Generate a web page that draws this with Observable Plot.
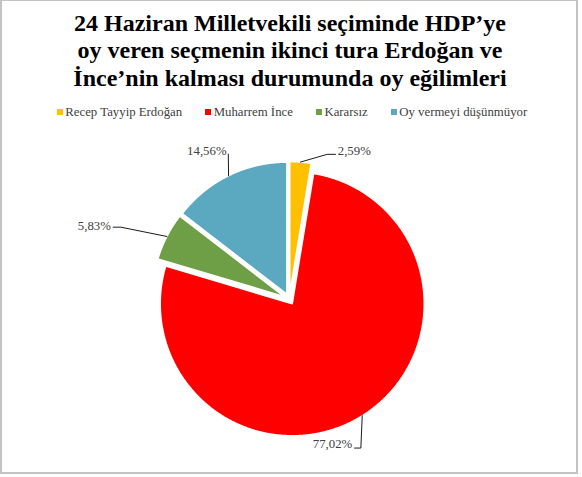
<!DOCTYPE html>
<html>
<head>
<meta charset="utf-8">
<script src="https://cdn.jsdelivr.net/npm/d3@7"></script>
<script src="https://cdn.jsdelivr.net/npm/@observablehq/plot@0.6"></script>
<style>
  html, body { margin: 0; padding: 0; background: #fff; }
  #frame { position: absolute; left: 0; top: 0; width: 578px; height: 474px; box-sizing: border-box; border: 2px solid #c3c3c3; border-top-width: 1px; }
  #title { position: absolute; left: 0; top: 9.9px; width: 580px; text-align: center;
           font-family: "Liberation Serif", "DejaVu Serif", serif; font-weight: bold; font-size: 24px;
           line-height: 27.5px; color: #000; white-space: nowrap; }
  #legend { position: absolute; left: 0; top: 104px; width: 584px; height: 16px; display: flex; justify-content: center; align-items: center;
            font-family: "Liberation Serif", serif; font-size: 12.8px; color: #404040; white-space: nowrap; }
  .item { display: flex; align-items: center; margin: 0 11.5px; }
  .sw { width: 6px; height: 6px; margin-right: 2.5px; }
  #chart { position: absolute; left: 0; top: 130px; }
</style>
</head>
<body>
<div id="frame"></div>
<div id="title">24 Haziran Milletvekili seçiminde HDP’ye<br>oy veren seçmenin ikinci tura Erdoğan ve<br>İnce’nin kalması durumunda oy eğilimleri</div>
<div id="legend"></div>
<div id="chart"></div>
<script>
// ---- data ----
const categories = ["Recep Tayyip Erdoğan", "Muharrem İnce", "Kararsız", "Oy vermeyi düşünmüyor"];
const values = [2.59, 77.02, 5.83, 14.56];
const colors = ["#FFC000", "#FF0000", "#6E9E45", "#5AA9C1"];
const labels = values.map(v => v.toFixed(2).replace(".", ",") + "%");

// ---- layout (pixels) ----
const W = 578, H = 340, CX = 288.8, CY = 168.6, R = 132, EXPLODE = 5.5;
// leader-line bends and label positions, as pixel offsets from each slice's outer arc midpoint
const labelLayout = [
  {path: [[0, 0], [26.7, -7.7], [35, -7.7]], text: [37.3, -11], anchor: "start"},
  {path: [[0, 0], [-1.4, 32.4], [-7.7, 32.4]], text: [-10, 28.7], anchor: "end"},
  {path: [[0, 0], [-46, -9.3], [-53.7, -9.3]], text: [-56, -11], anchor: "end"},
  {path: [[0, 0], [-0.3, -21.7]], text: [-2, -25], anchor: "end"}
];

// legend
const legend = document.getElementById("legend");
categories.forEach((c, i) => {
  const it = document.createElement("div");
  it.className = "item";
  const sw = document.createElement("span");
  sw.className = "sw";
  sw.style.background = colors[i];
  const tx = document.createElement("span");
  tx.textContent = c;
  it.appendChild(sw); it.appendChild(tx);
  legend.appendChild(it);
});

// pie geometry from data (unit = radius, y up)
const arcs = d3.pie().sort(null).value(d => d)(values);
const u = EXPLODE / R;
const slices = arcs.map((a) => {
  const mid = (a.startAngle + a.endAngle) / 2;
  const ox = u * Math.sin(mid), oy = u * Math.cos(mid);
  const n = Math.max(4, Math.ceil((a.endAngle - a.startAngle) / 0.005));
  const pts = [{x: ox, y: oy}];
  for (let k = 0; k <= n; k++) {
    const t = a.startAngle + (a.endAngle - a.startAngle) * k / n;
    pts.push({x: ox + Math.sin(t), y: oy + Math.cos(t)});
  }
  pts.push({x: ox, y: oy});
  return {pts, ax: ox + Math.sin(mid), ay: oy + Math.cos(mid)};
});

const marks = [];
slices.forEach((s, i) => {
  marks.push(Plot.line(s.pts, {x: "x", y: "y", fill: colors[i], stroke: "#fff", strokeWidth: 1.5, strokeLinejoin: "miter", curve: "linear"}));
});
const textRows = [];
slices.forEach((s, i) => {
  const L = labelLayout[i];
  const path = L.path.map(([dx, dy]) => ({x: s.ax + dx / R, y: s.ay - dy / R}));
  marks.push(Plot.line(path, {x: "x", y: "y", stroke: "#000", strokeWidth: 0.9, curve: "linear"}));
  textRows.push({x: s.ax + L.text[0] / R, y: s.ay - L.text[1] / R, label: labels[i], anchor: L.anchor});
});
marks.push(Plot.text(textRows.filter(d => d.anchor === "start"), {x: "x", y: "y", text: "label", textAnchor: "start", fontFamily: "Liberation Serif, serif", fontSize: 12.8, fill: "#404040"}));
marks.push(Plot.text(textRows.filter(d => d.anchor === "end"), {x: "x", y: "y", text: "label", textAnchor: "end", fontFamily: "Liberation Serif, serif", fontSize: 12.8, fill: "#404040"}));

const plot = Plot.plot({
  width: W, height: H, margin: 0,
  style: {background: "transparent", overflow: "visible"},
  x: {domain: [-CX / R, (W - CX) / R], axis: null},
  y: {domain: [-(H - CY) / R, CY / R], axis: null},
  marks
});
document.getElementById("chart").appendChild(plot);
</script>
</body>
</html>
